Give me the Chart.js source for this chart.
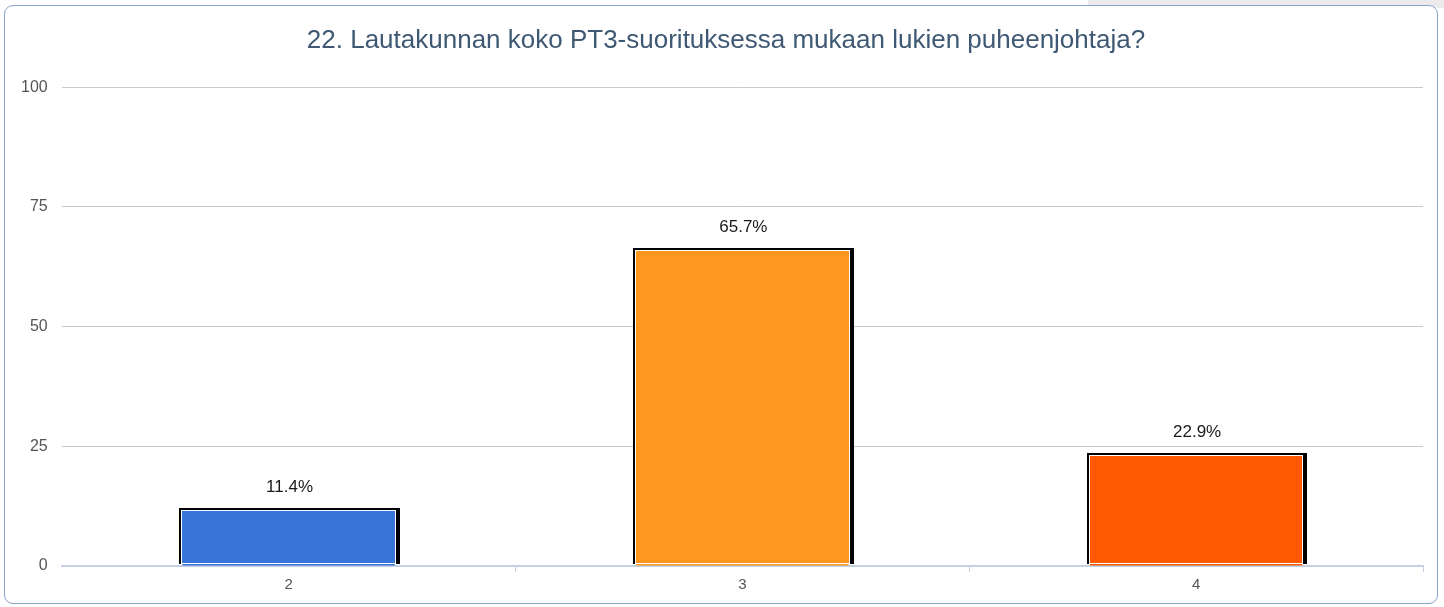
<!DOCTYPE html>
<html>
<head>
<meta charset="utf-8">
<script src="https://cdn.jsdelivr.net/npm/chart.js@4"></script>
<style>
  html, body { margin: 0; padding: 0; background: #fff; }
  .grey { position: absolute; left: 1088px; top: 0; width: 356px; height: 8px; background: #ebebeb; }
  .box { position: absolute; left: 4px; top: 5px; width: 1432px; height: 597px; border: 1.5px solid #86a3c8; border-radius: 9px; background: #fff; }
  .wrap { position: absolute; left: 0; top: 0; width: 1444px; height: 607px; }
</style>
</head>
<body>
<div class="grey"></div>
<div class="box"></div>
<div class="wrap"><canvas id="myChart"></canvas></div>
<script>
  const titleText = '22. Lautakunnan koko PT3-suorituksessa mukaan lukien puheenjohtaja?';
  const categories = ['2', '3', '4'];
  const values = [11.4, 65.7, 22.9];
  const labelsText = ['11.4%', '65.7%', '22.9%'];
  const barColors = ['#3775d9', '#fe961f', '#ff5a03'];
  const yTicks = [0, 25, 50, 75, 100];

  // title sits a little right of the canvas centre in the original
  const titleShift = {
    id: 'titleShift',
    afterLayout(chart) {
      if (chart.titleBlock) chart.titleBlock.left += 22;
    }
  };

  // black frame + white inner line + right shadow, then the value label
  const barStyle = {
    id: 'barStyle',
    afterDatasetsDraw(chart) {
      const ctx = chart.ctx;
      const meta = chart.getDatasetMeta(0);
      ctx.save();
      meta.data.forEach(function(bar, i) {
        const l = Math.round(bar.x - bar.width / 2);
        const r = Math.round(bar.x + bar.width / 2);
        const t = Math.round(bar.y);
        const b = Math.round(bar.base);
        ctx.fillStyle = '#000';
        ctx.fillRect(l - 3, t - 3, r - l + 8, b - t + 1);
        ctx.fillStyle = '#fff';
        ctx.fillRect(l - 1, t - 1, r - l + 2, b - t - 1);
        ctx.fillStyle = barColors[i];
        ctx.fillRect(l, t, r - l, b - t - 3);
        ctx.fillStyle = '#1a1a1a';
        ctx.font = '17px "Liberation Sans", Arial, sans-serif';
        ctx.textAlign = 'center';
        ctx.textBaseline = 'middle';
        ctx.fillText(labelsText[i], bar.x + 1, t - 24);
      });
      ctx.restore();
    }
  };

  const data = {
    labels: categories,
    datasets: [{
      data: values,
      backgroundColor: barColors,
      borderWidth: 0,
      categoryPercentage: 1,
      barPercentage: 0.468
    }]
  };

  const config = {
    type: 'bar',
    data: data,
    plugins: [titleShift, barStyle],
    options: {
      responsive: false,
      animation: false,
      layout: { padding: { left: 7, right: 21, top: 8, bottom: 9 } },
      plugins: {
        legend: { display: false },
        tooltip: { enabled: false },
        title: {
          display: true,
          text: titleText,
          color: '#3f5873',
          font: { size: 26, family: '"Liberation Sans", Arial, sans-serif', weight: 'normal' },
          padding: { top: 17, bottom: 31 }
        }
      },
      scales: {
        y: {
          min: 0,
          max: 100,
          afterBuildTicks(axis) { axis.ticks = yTicks.map(v => ({ value: v })); },
          ticks: {
            color: '#555',
            padding: 14,
            font: { size: 16, family: '"Liberation Sans", Arial, sans-serif' }
          },
          grid: { color: '#c9c9c9', lineWidth: 1, drawTicks: false },
          border: { display: false }
        },
        x: {
          offset: true,
          ticks: {
            color: '#555',
            padding: 4,
            font: { size: 15, family: '"Liberation Sans", Arial, sans-serif' }
          },
          grid: {
            offset: true,
            drawOnChartArea: false,
            drawTicks: true,
            tickLength: 6,
            color: function(c) { return c.index === 0 ? 'rgba(0,0,0,0)' : '#c3d1e2'; }
          },
          border: { display: true, color: '#c3d1e2', width: 2 }
        }
      }
    }
  };

  const canvas = document.getElementById('myChart');
  canvas.width = 1444;
  canvas.height = 607;
  const myChart = new Chart(canvas, config);
</script>
</body>
</html>
